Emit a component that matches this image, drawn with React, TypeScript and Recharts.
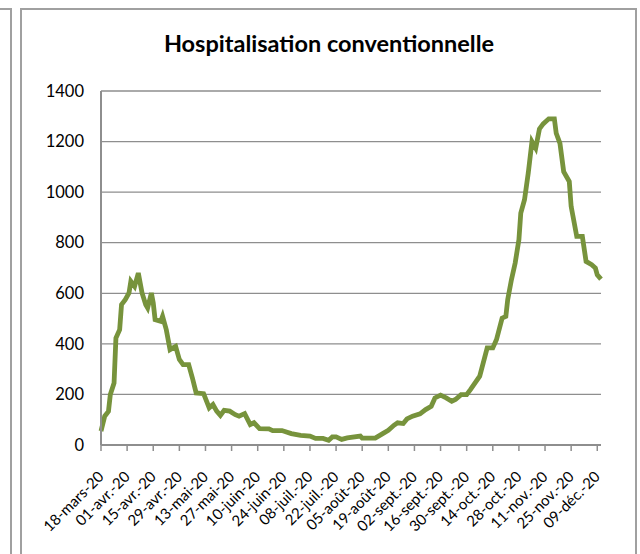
import React from "react";
import { LineChart, Line, XAxis, YAxis, CartesianGrid } from "recharts";

// jours depuis le 18 mars 2020
const days = [
  0, 2, 4, 5, 7, 8, 10, 11, 13, 15, 16, 18, 20, 22, 24, 25, 27, 28, 29, 32, 33,
  35, 37, 40, 42, 44, 47, 49, 51, 55, 58, 60, 62, 64, 66, 69, 72, 74, 77, 80, 82,
  85, 90, 92, 97, 102, 107, 112, 115, 119, 122, 124, 126, 129, 132, 139, 140,
  147, 151, 154, 157, 159, 162, 164, 167, 171, 174, 177, 179, 182, 185, 188,
  190, 193, 196, 198, 203, 207, 210, 212, 215, 217, 218, 220, 222, 224, 225,
  227, 229, 231, 233, 235, 237, 240, 243, 244, 246, 248, 251, 252, 253, 255,
  258, 260, 263, 265, 266, 268,
];

const hospitalisations = [
  55, 114, 133, 200, 245, 423, 456, 555, 575, 601, 647, 627, 680, 601, 555, 542,
  601, 562, 496, 489, 509, 456, 377, 390, 338, 318, 318, 265, 206, 203, 147, 160,
  134, 117, 137, 134, 120, 114, 124, 81, 88, 65, 64, 57, 57, 45, 38, 35, 26, 26,
  19, 32, 32, 22, 28, 35, 27, 27, 45, 58, 78, 88, 85, 103, 114, 123, 140, 153,
  186, 197, 186, 173, 180, 199, 199, 219, 272, 384, 384, 417, 502, 509, 575, 654,
  720, 812, 917, 970, 1075, 1200, 1174, 1250, 1270, 1290, 1290, 1233, 1193, 1081,
  1042, 943, 904, 825, 825, 726, 713, 700, 673, 656,
];

const dateLabels = [
  "18-mars-20", "01-avr.-20", "15-avr.-20", "29-avr.-20", "13-mai-20",
  "27-mai-20", "10-juin-20", "24-juin-20", "08-juil.-20", "22-juil.-20",
  "05-août-20", "19-août-20", "02-sept.-20", "16-sept.-20", "30-sept.-20",
  "14-oct.-20", "28-oct.-20", "11-nov.-20", "25-nov.-20", "09-déc.-20",
];

const yTicks = [0, 200, 400, 600, 800, 1000, 1200, 1400];

const data = days.map((d, i) => ({ day: d, value: hospitalisations[i] }));
const xTicks = dateLabels.map((_, i) => i * 14);

const FONT = "Lato, 'DejaVu Sans', sans-serif";
const GRAY = "#8e8e8e";

function DateTick(props: any) {
  const { x, y, payload } = props;
  const label = dateLabels[Math.round(payload.value / 14)];
  const tx = x;
  const ty = y + 21;
  return (
    <text
      x={tx}
      y={ty}
      dy="0.35em"
      textAnchor="end"
      transform={`rotate(-45 ${tx} ${ty})`}
      fontSize={15}
      fontFamily={FONT}
      fill="#000"
    >
      {label}
    </text>
  );
}

function ValueTick(props: any) {
  const { y, payload } = props;
  return (
    <text
      x={84}
      y={y}
      dy="0.35em"
      textAnchor="end"
      fontSize={16.5}
      fontFamily={FONT}
      fill="#000"
    >
      {payload.value}
    </text>
  );
}

export default function App() {
  return (
    <div
      style={{
        position: "absolute",
        left: 0,
        top: 0,
        width: 640,
        height: 554,
        overflow: "hidden",
        background: "#fff",
      }}
    >
      {/* bord du panneau voisin */}
      <div
        style={{
          position: "absolute",
          left: -2,
          top: 8,
          width: 12,
          height: 560,
          borderTop: "2px solid #a0a0a0",
          borderRight: "2px solid #a0a0a0",
        }}
      />
      {/* cadre du graphique */}
      <div
        style={{
          position: "absolute",
          left: 20,
          top: 8,
          width: 613,
          height: 560,
          borderTop: "2px solid #a0a0a0",
          borderLeft: "2px solid #a0a0a0",
          borderRight: "2px solid #a0a0a0",
        }}
      />
      <div
        style={{
          position: "absolute",
          left: 0,
          top: 29,
          width: 658,
          textAlign: "center",
          fontFamily: FONT,
          fontWeight: 700,
          fontSize: 23.5,
          color: "#000",
        }}
      >
        Hospitalisation conventionnelle
      </div>
      <div style={{ position: "absolute", left: 0, top: 0 }}>
        <LineChart
          width={640}
          height={554}
          data={data}
          margin={{ top: 91, right: 39, bottom: 9, left: 0 }}
        >
          <CartesianGrid
            vertical={false}
            stroke={GRAY}
            strokeWidth={1.3}
          />
          <XAxis
            dataKey="day"
            type="number"
            domain={[0, 268]}
            ticks={xTicks}
            interval={0}
            height={100}
            tick={<DateTick />}
            axisLine={{ stroke: GRAY, strokeWidth: 2 }}
            tickLine={{ stroke: GRAY, strokeWidth: 1.5 }}
            tickSize={6}
          />
          <YAxis
            type="number"
            domain={[0, 1400]}
            ticks={yTicks}
            width={101}
            tick={<ValueTick />}
            axisLine={{ stroke: GRAY, strokeWidth: 2 }}
            tickLine={false}
          />
          <Line
            type="linear"
            dataKey="value"
            stroke="#77933C"
            strokeWidth={4.8}
            dot={false}
            isAnimationActive={false}
          />
        </LineChart>
      </div>
    </div>
  );
}
